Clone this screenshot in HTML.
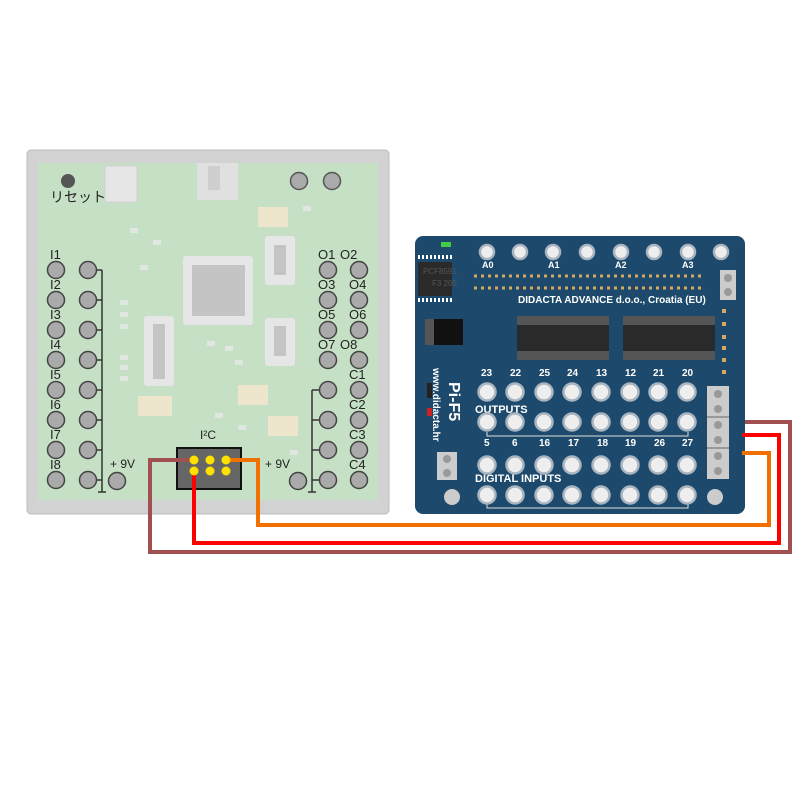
<!DOCTYPE html>
<html><head><meta charset="utf-8"><style>body{margin:0;background:#fff}svg{display:block}</style></head><body>
<svg width="800" height="800" xmlns="http://www.w3.org/2000/svg" font-family="Liberation Sans, sans-serif">
<!-- left board -->
<rect x="27" y="150" width="362" height="364" rx="4" fill="#d2d2d2" stroke="#bdbdbd"/>
<rect x="38" y="163" width="340" height="337" fill="#c6e0c6"/>
<rect x="105" y="166" width="32" height="36" fill="#e6e6e6" stroke="#d0d0d0"/>
<rect x="197" y="163" width="41" height="37" fill="#e0e0e0"/>
<rect x="208" y="166" width="12" height="24" fill="#cfcfcf"/>
<circle cx="68" cy="181" r="7" fill="#555"/>
<text x="50" y="202" font-size="14" fill="#222" font-family="Liberation Sans, Noto Sans CJK JP, sans-serif">リセット</text>
<circle cx="299" cy="181" r="8.5" fill="#aaa" stroke="#555" stroke-width="1.5"/>
<circle cx="332" cy="181" r="8.5" fill="#aaa" stroke="#555" stroke-width="1.5"/>
<rect x="183" y="256" width="70" height="69" rx="3" fill="#e6e6e6"/>
<rect x="192" y="265" width="53" height="51" fill="#c4c4c4"/>
<rect x="144" y="316" width="30" height="70" rx="3" fill="#e6e6e6"/><rect x="153" y="324" width="12" height="55" fill="#c4c4c4"/>
<rect x="265" y="236" width="30" height="49" rx="3" fill="#e6e6e6"/><rect x="274" y="245" width="12" height="30" fill="#c4c4c4"/>
<rect x="265" y="318" width="30" height="48" rx="3" fill="#e6e6e6"/><rect x="274" y="326" width="12" height="30" fill="#c4c4c4"/>
<g fill="#ede6cc"><rect x="258" y="207" width="30" height="20"/><rect x="138" y="396" width="34" height="20"/><rect x="238" y="385" width="30" height="20"/><rect x="268" y="416" width="30" height="20"/></g>
<g fill="#e0e6e0"><rect x="303" y="206" width="8" height="5"/><rect x="130" y="228" width="8" height="5"/><rect x="153" y="240" width="8" height="5"/><rect x="140" y="265" width="8" height="5"/><rect x="120" y="300" width="8" height="5"/><rect x="120" y="312" width="8" height="5"/><rect x="120" y="324" width="8" height="5"/><rect x="120" y="355" width="8" height="5"/><rect x="120" y="365" width="8" height="5"/><rect x="120" y="376" width="8" height="5"/><rect x="207" y="341" width="8" height="5"/><rect x="225" y="346" width="8" height="5"/><rect x="235" y="360" width="8" height="5"/><rect x="215" y="413" width="8" height="5"/><rect x="238" y="425" width="8" height="5"/><rect x="290" y="450" width="8" height="5"/></g>
<g stroke="#333" stroke-width="1.5" fill="none">
<path d="M102 270V492M98 492H106M96 270H102M96 300H102M96 330H102M96 360H102M96 390H102M96 420H102M96 450H102M96 480H102"/>
<path d="M312 390V492M308 492H316M312 390H320M312 420H320M312 450H320M312 480H320"/>
</g>
<g fill="#aaa" stroke="#444" stroke-width="1.5">
<circle cx="56" cy="270" r="8.5"/><circle cx="56" cy="300" r="8.5"/><circle cx="56" cy="330" r="8.5"/><circle cx="56" cy="360" r="8.5"/><circle cx="56" cy="390" r="8.5"/><circle cx="56" cy="420" r="8.5"/><circle cx="56" cy="450" r="8.5"/><circle cx="56" cy="480" r="8.5"/>
<circle cx="88" cy="270" r="8.5"/><circle cx="88" cy="300" r="8.5"/><circle cx="88" cy="330" r="8.5"/><circle cx="88" cy="360" r="8.5"/><circle cx="88" cy="390" r="8.5"/><circle cx="88" cy="420" r="8.5"/><circle cx="88" cy="450" r="8.5"/><circle cx="88" cy="480" r="8.5"/>
<circle cx="328" cy="270" r="8.5"/><circle cx="328" cy="300" r="8.5"/><circle cx="328" cy="330" r="8.5"/><circle cx="328" cy="360" r="8.5"/><circle cx="328" cy="390" r="8.5"/><circle cx="328" cy="420" r="8.5"/><circle cx="328" cy="450" r="8.5"/><circle cx="328" cy="480" r="8.5"/>
<circle cx="359" cy="270" r="8.5"/><circle cx="359" cy="300" r="8.5"/><circle cx="359" cy="330" r="8.5"/><circle cx="359" cy="360" r="8.5"/><circle cx="359" cy="390" r="8.5"/><circle cx="359" cy="420" r="8.5"/><circle cx="359" cy="450" r="8.5"/><circle cx="359" cy="480" r="8.5"/>
<circle cx="117" cy="481" r="8.5"/><circle cx="298" cy="481" r="8.5"/>
</g>
<g font-size="13" fill="#222">
<text x="50" y="259">I1</text><text x="50" y="289">I2</text><text x="50" y="319">I3</text><text x="50" y="349">I4</text><text x="50" y="379">I5</text><text x="50" y="409">I6</text><text x="50" y="439">I7</text><text x="50" y="469">I8</text>
<text x="318" y="259">O1</text><text x="340" y="259">O2</text><text x="318" y="289">O3</text><text x="349" y="289">O4</text><text x="318" y="319">O5</text><text x="349" y="319">O6</text><text x="318" y="349">O7</text><text x="340" y="349">O8</text>
<text x="349" y="379">C1</text><text x="349" y="409">C2</text><text x="349" y="439">C3</text><text x="349" y="469">C4</text>
<text x="110" y="468" font-size="12">+ 9V</text><text x="265" y="468" font-size="12">+ 9V</text>
<text x="200" y="439" font-size="12">I²C</text>
</g>
<rect x="177" y="448" width="64" height="41" fill="#666" stroke="#111" stroke-width="2"/>
<!-- pi board -->
<rect x="415" y="236" width="330" height="278" rx="8" fill="#1d4a6c"/>
<rect x="441" y="242" width="10" height="5" fill="#4c4"/>
<rect x="418" y="262" width="34" height="34" fill="#2a2a2a"/>
<g stroke="#fff" stroke-width="4" stroke-dasharray="2,2"><path d="M418 257H452M418 300H452"/></g>
<text x="423" y="274" font-size="8" fill="#555">PCF8591</text><text x="432" y="286" font-size="8" fill="#555">F3 205</text>
<rect x="425" y="319" width="38" height="26" fill="#111"/><rect x="425" y="319" width="9" height="26" fill="#555"/>
<rect x="517" y="316" width="92" height="44" fill="#555"/><rect x="517" y="325" width="92" height="26" fill="#2a2a2a"/>
<rect x="623" y="316" width="92" height="44" fill="#555"/><rect x="623" y="325" width="92" height="26" fill="#2a2a2a"/>
<g stroke="#d8a860" stroke-width="3" stroke-dasharray="3,4"><path d="M474 276H702M474 288H702"/></g>
<g fill="#ccc"><rect x="720" y="270" width="16" height="30"/><rect x="707" y="386" width="22" height="93"/><rect x="437" y="452" width="20" height="28"/></g>
<g fill="#999"><circle cx="728" cy="278" r="4"/><circle cx="728" cy="292" r="4"/><circle cx="718" cy="394" r="4"/><circle cx="718" cy="409" r="4"/><circle cx="718" cy="425" r="4"/><circle cx="718" cy="440" r="4"/><circle cx="718" cy="456" r="4"/><circle cx="718" cy="471" r="4"/><circle cx="447" cy="459" r="4"/><circle cx="447" cy="473" r="4"/></g>
<g stroke="#666"><path d="M707 417H729M707 448H729"/></g>
<g fill="#d8a860"><rect x="722" y="309" width="4" height="4"/><rect x="722" y="322" width="4" height="4"/><rect x="722" y="335" width="4" height="4"/><rect x="722" y="346" width="4" height="4"/><rect x="722" y="358" width="4" height="4"/><rect x="722" y="370" width="4" height="4"/></g>
<rect x="427" y="383" width="5" height="15" fill="#222"/><rect x="427" y="408" width="5" height="8" fill="#c22"/>
<g font-size="9" fill="#fff" font-weight="bold">
<text x="482" y="268">A0</text><text x="548" y="268">A1</text><text x="615" y="268">A2</text><text x="682" y="268">A3</text>
<text x="518" y="303" font-size="10">DIDACTA  ADVANCE d.o.o., Croatia (EU)</text>
<text x="481" y="376" font-size="10">23</text><text x="510" y="376" font-size="10">22</text><text x="539" y="376" font-size="10">25</text><text x="567" y="376" font-size="10">24</text><text x="596" y="376" font-size="10">13</text><text x="625" y="376" font-size="10">12</text><text x="653" y="376" font-size="10">21</text><text x="682" y="376" font-size="10">20</text>
<text x="484" y="446" font-size="10">5</text><text x="512" y="446" font-size="10">6</text><text x="539" y="446" font-size="10">16</text><text x="568" y="446" font-size="10">17</text><text x="597" y="446" font-size="10">18</text><text x="625" y="446" font-size="10">19</text><text x="654" y="446" font-size="10">26</text><text x="682" y="446" font-size="10">27</text>
<text x="475" y="413" font-size="11">OUTPUTS</text><text x="475" y="482" font-size="11">DIGITAL INPUTS</text>
</g>
<text transform="translate(449,382) rotate(90)" font-size="16" font-weight="bold" fill="#fff">Pi-F5</text>
<text transform="translate(433,368) rotate(90)" font-size="10" font-weight="bold" fill="#fff">www.didacta.hr</text>
<g stroke="#ddd" stroke-width="1" fill="none"><path d="M487 432V436H688V432M487 504V508H688V504"/></g>
<g fill="#eee" stroke="#a8b4c0" stroke-width="2.5">
<circle cx="487" cy="252" r="7"/><circle cx="520" cy="252" r="7"/><circle cx="553" cy="252" r="7"/><circle cx="587" cy="252" r="7"/><circle cx="621" cy="252" r="7"/><circle cx="654" cy="252" r="7"/><circle cx="688" cy="252" r="7"/><circle cx="721" cy="252" r="7"/>
<circle cx="487" cy="392" r="8.5"/><circle cx="515" cy="392" r="8.5"/><circle cx="544" cy="392" r="8.5"/><circle cx="572" cy="392" r="8.5"/><circle cx="601" cy="392" r="8.5"/><circle cx="630" cy="392" r="8.5"/><circle cx="658" cy="392" r="8.5"/><circle cx="687" cy="392" r="8.5"/>
<circle cx="487" cy="422" r="8.5"/><circle cx="515" cy="422" r="8.5"/><circle cx="544" cy="422" r="8.5"/><circle cx="572" cy="422" r="8.5"/><circle cx="601" cy="422" r="8.5"/><circle cx="630" cy="422" r="8.5"/><circle cx="658" cy="422" r="8.5"/><circle cx="687" cy="422" r="8.5"/>
<circle cx="487" cy="465" r="8.5"/><circle cx="515" cy="465" r="8.5"/><circle cx="544" cy="465" r="8.5"/><circle cx="572" cy="465" r="8.5"/><circle cx="601" cy="465" r="8.5"/><circle cx="630" cy="465" r="8.5"/><circle cx="658" cy="465" r="8.5"/><circle cx="687" cy="465" r="8.5"/>
<circle cx="487" cy="495" r="8.5"/><circle cx="515" cy="495" r="8.5"/><circle cx="544" cy="495" r="8.5"/><circle cx="572" cy="495" r="8.5"/><circle cx="601" cy="495" r="8.5"/><circle cx="630" cy="495" r="8.5"/><circle cx="658" cy="495" r="8.5"/><circle cx="687" cy="495" r="8.5"/>
</g>
<circle cx="452" cy="497" r="8" fill="#ccc"/><circle cx="715" cy="497" r="8" fill="#ccc"/>
<!-- wires -->
<g fill="none" stroke-width="4">
<path d="M194 460H150V552H790V422H745" stroke="#a05050"/>
<path d="M194 471V543H779V435H742" stroke="#f00"/>
<path d="M226 460H258V525H769V453H742" stroke="#f07000"/>
</g>
<g fill="#ffe000"><circle cx="194" cy="460" r="4.5"/><circle cx="210" cy="460" r="4.5"/><circle cx="226" cy="460" r="4.5"/><circle cx="194" cy="471" r="4.5"/><circle cx="210" cy="471" r="4.5"/><circle cx="226" cy="471" r="4.5"/></g>
</svg>
</body></html>
